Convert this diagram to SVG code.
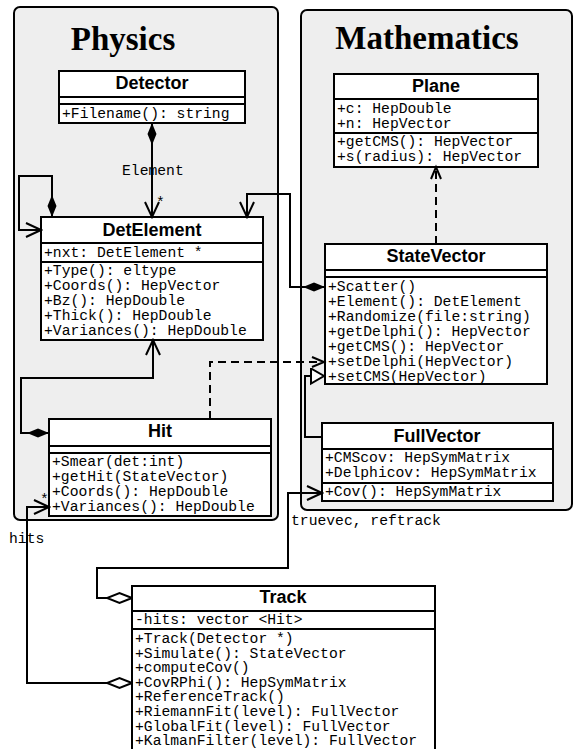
<svg xmlns="http://www.w3.org/2000/svg" width="573" height="749" viewBox="0 0 573 749">
<style>
.pkg{fill:#eeeeee;stroke:#000;stroke-width:2}
.box{fill:#fff;stroke:#000;stroke-width:2}
.sep{fill:none;stroke:#000;stroke-width:2}
.pt{font-family:"Liberation Serif","Times New Roman",serif;font-weight:bold;font-size:33px;text-anchor:middle;fill:#000}
.ct{font-family:"Liberation Sans",Arial,sans-serif;font-weight:bold;font-size:18px;text-anchor:middle;fill:#000}
.m{font-family:"Liberation Mono","Courier New",monospace;font-size:14.7px;fill:#000}
.ln{fill:none;stroke:#000;stroke-width:2}
.dash{stroke-dasharray:8 5}
</style>
<defs>
<marker id="arrow" markerUnits="userSpaceOnUse" markerWidth="18" markerHeight="18" refX="16" refY="8" orient="auto"><path d="M1,1 L16,8 L1,15" fill="none" stroke="#000" stroke-width="2"/></marker>
<marker id="arrowD" markerUnits="userSpaceOnUse" markerWidth="16" markerHeight="14" refX="13" refY="7" orient="auto"><path d="M1,2 L13,7 L1,12" fill="none" stroke="#000" stroke-width="2"/></marker>
<marker id="dia" markerUnits="userSpaceOnUse" markerWidth="24" markerHeight="12" refX="1" refY="6" orient="auto"><path d="M1,6 L12,1.5 L23,6 L12,10.5 Z" fill="#000" stroke="none"/></marker>
<marker id="diaH" markerUnits="userSpaceOnUse" markerWidth="28" markerHeight="14" refX="1" refY="7" orient="auto"><path d="M1,7 L13.5,2 L26,7 L13.5,12 Z" fill="#fff" stroke="#000" stroke-width="2"/></marker>
<marker id="tri" markerUnits="userSpaceOnUse" markerWidth="16" markerHeight="18" refX="14" refY="8.5" orient="auto"><path d="M1,1 L14,8.5 L1,16 Z" fill="#fff" stroke="#000" stroke-width="2"/></marker>
</defs>

<g id="pkg-physics">
<rect class="pkg" x="14" y="7" width="264" height="513" rx="6"/>
<text class="pt" x="123" y="50">Physics</text>
</g>
<g id="pkg-mathematics">
<rect class="pkg" x="301" y="10" width="271" height="500" rx="6"/>
<text class="pt" x="427" y="49">Mathematics</text>
</g>

<g id="Detector">
<rect class="box" x="59" y="71" width="186" height="52"/>
<path class="sep" d="M59,97 H245 M59,104 H245"/>
<text class="ct" x="152" y="89">Detector</text>
<text class="m" x="62" y="118">+Filename(): string</text>
</g>

<g id="DetElement">
<rect class="box" x="41" y="217" width="222" height="123"/>
<path class="sep" d="M41,243 H263 M41,262 H263"/>
<text class="ct" x="152" y="236">DetElement</text>
<text class="m" x="44" y="257">+nxt: DetElement *</text>
<text class="m" x="44" y="275">+Type(): eltype</text>
<text class="m" x="44" y="290">+Coords(): HepVector</text>
<text class="m" x="44" y="305">+Bz(): HepDouble</text>
<text class="m" x="44" y="320">+Thick(): HepDouble</text>
<text class="m" x="44" y="335">+Variances(): HepDouble</text>
</g>

<g id="Hit">
<rect class="box" x="49" y="419" width="222" height="97"/>
<path class="sep" d="M49,446 H271 M49,453 H271"/>
<text class="ct" x="160" y="437">Hit</text>
<text class="m" x="52" y="466">+Smear(det:int)</text>
<text class="m" x="52" y="481">+getHit(StateVector)</text>
<text class="m" x="52" y="496">+Coords(): HepDouble</text>
<text class="m" x="52" y="511">+Variances(): HepDouble</text>
</g>

<g id="Plane">
<rect class="box" x="334" y="74" width="204" height="93"/>
<path class="sep" d="M334,99 H538 M334,133 H538"/>
<text class="ct" x="436" y="92">Plane</text>
<text class="m" x="337" y="113">+c: HepDouble</text>
<text class="m" x="337" y="128">+n: HepVector</text>
<text class="m" x="337" y="146">+getCMS(): HepVector</text>
<text class="m" x="337" y="161">+s(radius): HepVector</text>
</g>

<g id="StateVector">
<rect class="box" x="325" y="244" width="222" height="140"/>
<path class="sep" d="M325,270 H547 M325,277 H547"/>
<text class="ct" x="436" y="262">StateVector</text>
<text class="m" x="328" y="291">+Scatter()</text>
<text class="m" x="328" y="306">+Element(): DetElement</text>
<text class="m" x="328" y="321">+Randomize(file:string)</text>
<text class="m" x="328" y="336">+getDelphi(): HepVector</text>
<text class="m" x="328" y="351">+getCMS(): HepVector</text>
<text class="m" x="328" y="366">+setDelphi(HepVector)</text>
<text class="m" x="328" y="381">+setCMS(HepVector)</text>
</g>

<g id="FullVector">
<rect class="box" x="322" y="423" width="231" height="78"/>
<path class="sep" d="M322,449 H553 M322,483 H553"/>
<text class="ct" x="437" y="442">FullVector</text>
<text class="m" x="325" y="462">+CMScov: HepSymMatrix</text>
<text class="m" x="325" y="477">+Delphicov: HepSymMatrix</text>
<text class="m" x="325" y="496">+Cov(): HepSymMatrix</text>
</g>

<g id="Track">
<rect class="box" x="132" y="586" width="303" height="175"/>
<path class="sep" d="M132,611 H435 M132,629 H435"/>
<text class="ct" x="283" y="603">Track</text>
<text class="m" x="135" y="624">-hits: vector &lt;Hit&gt;</text>
<text class="m" x="135" y="643">+Track(Detector *)</text>
<text class="m" x="135" y="657.6">+Simulate(): StateVector</text>
<text class="m" x="135" y="672.2">+computeCov()</text>
<text class="m" x="135" y="686.8">+CovRPhi(): HepSymMatrix</text>
<text class="m" x="135" y="701.4">+ReferenceTrack()</text>
<text class="m" x="135" y="716">+RiemannFit(level): FullVector</text>
<text class="m" x="135" y="730.6">+GlobalFit(level): FullVector</text>
<text class="m" x="135" y="745.2">+KalmanFilter(level): FullVector</text>
</g>

<g id="connectors">
<path class="ln" d="M152,123 L152,217" marker-start="url(#dia)" marker-end="url(#arrow)"/>
<path class="ln" d="M52,217 L52,176 L19,176 L19,230 L41,230" marker-start="url(#dia)" marker-end="url(#arrow)"/>
<path class="ln" d="M325,287 L290,287 L290,194 L247,194 L247,217" marker-start="url(#dia)" marker-end="url(#arrow)"/>
<path class="ln" d="M49,433 L21,433 L21,378 L153,378 L153,340" marker-start="url(#dia)" marker-end="url(#arrow)"/>
<path class="ln dash" d="M210,419 L210,362 L324,362" marker-end="url(#arrowD)"/>
<path class="ln dash" d="M436,244 L436,167" marker-end="url(#arrowD)"/>
<path class="ln" d="M322,437 L305,437 L305,376 L324,376" marker-end="url(#tri)"/>
<path class="ln" d="M132,598 L97,598 L97,568 L288,568 L288,493 L322,493" marker-start="url(#diaH)" marker-end="url(#arrow)"/>
<path class="ln" d="M132,683 L27,683 L27,507 L49,507" marker-start="url(#diaH)" marker-end="url(#arrow)"/>
<text class="m" x="122" y="175">Element</text>
<text class="m" x="156" y="207">*</text>
<text class="m" x="40" y="504">*</text>
<text class="m" x="9" y="543">hits</text>
<text class="m" x="291" y="525">truevec, reftrack</text>
</g>
</svg>
